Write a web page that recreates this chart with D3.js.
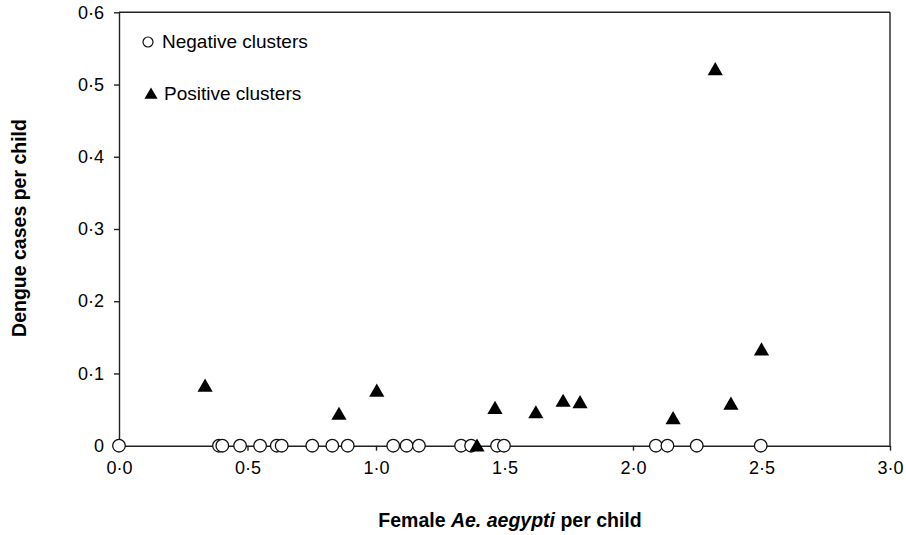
<!DOCTYPE html>
<html>
<head>
<meta charset="utf-8">
<script src="https://cdn.jsdelivr.net/npm/d3@7"></script>
<style>
  body { margin: 0; background: #fff; }
  text { font-family: "Liberation Sans", Arial, sans-serif; fill: #000; }
</style>
</head>
<body>
<svg id="chart" width="906" height="535"></svg>
<script>
const width = 906;
const height = 535;

// negative clusters (all at zero cases)
const negX = [0, 0.389, 0.402, 0.471, 0.549, 0.614, 0.633, 0.752, 0.830, 0.890,
  1.067, 1.119, 1.167, 1.331, 1.370, 1.471, 1.498, 2.089, 2.134, 2.248, 2.497];
const negY = negX.map(() => 0);

// positive clusters
const posX = [0.335, 0.856, 1.003, 1.393, 1.463, 1.622, 1.728, 1.794, 2.156, 2.320, 2.381, 2.500];
const posY = [0.083, 0.044, 0.076, 0.0, 0.052, 0.046, 0.062, 0.060, 0.038, 0.521, 0.058, 0.133];

const xTicks = [0, 0.5, 1, 1.5, 2, 2.5, 3];
const xTickLabels = ["0·0", "0·5", "1·0", "1·5", "2·0", "2·5", "3·0"];
const yTicks = [0, 0.1, 0.2, 0.3, 0.4, 0.5, 0.6];
const yTickLabels = ["0", "0·1", "0·2", "0·3", "0·4", "0·5", "0·6"];

const legendLabels = ["Negative clusters", "Positive clusters"];

const svg = d3.select("#chart");

const x = d3.scaleLinear().domain([0, 3]).range([119, 890]);
const y = d3.scaleLinear().domain([0, 0.6]).range([445.7, 12.3]);

const lineColor = "#222";

// frame: top and right edges
svg.append("line")
  .attr("x1", x(0)).attr("x2", x(3))
  .attr("y1", y(0.6)).attr("y2", y(0.6))
  .attr("stroke", lineColor).attr("stroke-width", 1.4);
svg.append("line")
  .attr("x1", x(3)).attr("x2", x(3))
  .attr("y1", y(0.6)).attr("y2", y(0))
  .attr("stroke", lineColor).attr("stroke-width", 1.4);

const yAxis = svg.append("g")
  .attr("transform", `translate(${x(0)},0)`)
  .call(d3.axisLeft(y)
    .tickValues(yTicks)
    .tickFormat((d, i) => yTickLabels[i])
    .tickSize(5)
    .tickSizeOuter(0)
    .tickPadding(10));

const xAxis = svg.append("g")
  .attr("transform", `translate(0,${y(0)})`)
  .call(d3.axisBottom(x)
    .tickValues(xTicks)
    .tickFormat((d, i) => xTickLabels[i])
    .tickSize(5)
    .tickSizeOuter(0)
    .tickPadding(11));

[xAxis, yAxis].forEach(g => {
  g.select(".domain").attr("stroke", lineColor).attr("stroke-width", 1.4);
  g.selectAll(".tick line").attr("stroke", lineColor).attr("stroke-width", 1.4);
  g.selectAll(".tick text")
    .style("font-family", '"Liberation Sans", Arial, sans-serif')
    .style("font-size", "18px")
    .attr("fill", "#000");
});

// negative points
svg.append("g")
  .selectAll("circle")
  .data(negX.map((d, i) => ({ x: d, y: negY[i] })))
  .join("circle")
  .attr("cx", d => x(d.x))
  .attr("cy", d => y(d.y))
  .attr("r", 6.3)
  .attr("fill", "#fff")
  .attr("stroke", "#111")
  .attr("stroke-width", 1.3);

// positive points
const tri = d3.symbol().type(d3.symbolTriangle).size(100);
svg.append("g")
  .selectAll("path")
  .data(posX.map((d, i) => ({ x: d, y: posY[i] })))
  .join("path")
  .attr("d", tri)
  .attr("transform", d => `translate(${x(d.x)},${y(d.y) + 1.5})`)
  .attr("fill", "#000");

// legend
const legend = svg.append("g");
legend.append("circle")
  .attr("cx", 148).attr("cy", 42).attr("r", 5)
  .attr("fill", "#fff").attr("stroke", "#111").attr("stroke-width", 1.2);
legend.append("path")
  .attr("d", d3.symbol().type(d3.symbolTriangle).size(75)())
  .attr("transform", "translate(151,95)")
  .attr("fill", "#000");
legend.selectAll("text")
  .data(legendLabels)
  .join("text")
  .attr("x", (d, i) => i === 0 ? 162 : 164)
  .attr("y", (d, i) => i === 0 ? 48 : 100)
  .style("font-size", "19px")
  .text(d => d);

// axis titles
const xTitle = svg.append("text")
  .attr("x", 510)
  .attr("y", 527)
  .attr("text-anchor", "middle")
  .style("font-size", "19.5px")
  .style("font-weight", "bold");
xTitle.append("tspan").text("Female ");
xTitle.append("tspan").style("font-style", "italic").text("Ae. aegypti");
xTitle.append("tspan").text(" per child");

svg.append("text")
  .attr("transform", "translate(26,228) rotate(-90)")
  .attr("text-anchor", "middle")
  .style("font-size", "19.5px")
  .style("font-weight", "bold")
  .text("Dengue cases per child");
</script>
</body>
</html>
